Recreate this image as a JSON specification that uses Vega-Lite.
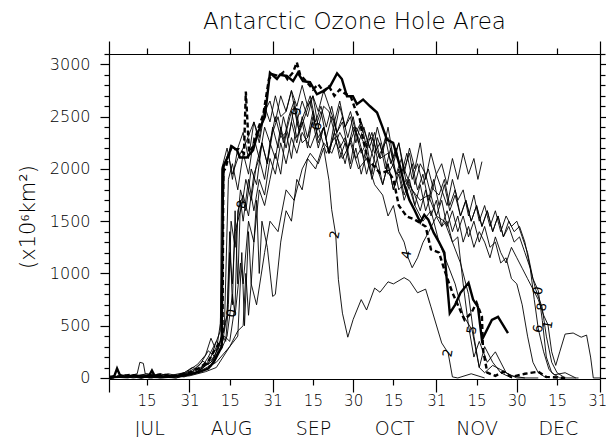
{
  "$schema": "https://vega.github.io/schema/vega-lite/v6.json",
  "width": 491,
  "height": 325,
  "autosize": {"type": "none"},
  "padding": {"left": 109, "top": 54, "right": 6, "bottom": 58},
  "background": "white",
  "config": {"view": {"stroke": null}, "font": "DejaVu Sans"},
  "title": {"text": "Antarctic Ozone Hole Area", "fontSize": 23, "font": "DejaVu Sans", "fontWeight": 300, "color": "black", "anchor": "middle", "frame": "group", "offset": 6},
  "resolve": {"axis": {"x": "independent", "y": "independent"}},
  "datasets": {
    "thick": [
      {"s":"S","d":0,"v":0},{"s":"S","d":2,"v":20},{"s":"S","d":3,"v":90},{"s":"S","d":4,"v":30},{"s":"S","d":6,"v":10},{"s":"S","d":9,"v":15},{"s":"S","d":12,"v":5},{"s":"S","d":15,"v":25},{"s":"S","d":16,"v":70},{"s":"S","d":17,"v":20},{"s":"S","d":20,"v":10},{"s":"S","d":24,"v":15},{"s":"S","d":28,"v":30},{"s":"S","d":31,"v":40},{"s":"S","d":34,"v":60},{"s":"S","d":37,"v":90},{"s":"S","d":39,"v":150},{"s":"S","d":41,"v":250},{"s":"S","d":42,"v":300},{"s":"S","d":42.5,"v":2020},{"s":"S","d":44,"v":2100},{"s":"S","d":45.8,"v":2215},{"s":"S","d":47.7,"v":2180},{"s":"S","d":48.8,"v":2110},{"s":"S","d":51.4,"v":2110},{"s":"S","d":53.7,"v":2180},{"s":"S","d":55.5,"v":2350},{"s":"S","d":58.1,"v":2500},{"s":"S","d":60,"v":2920},{"s":"S","d":62.6,"v":2860},{"s":"S","d":63.7,"v":2900},{"s":"S","d":66.3,"v":2890},{"s":"S","d":68.6,"v":2840},{"s":"S","d":70.4,"v":2920},{"s":"S","d":72.3,"v":2840},{"s":"S","d":74.9,"v":2830},{"s":"S","d":77.5,"v":2715},{"s":"S","d":79.8,"v":2745},{"s":"S","d":82.4,"v":2790},{"s":"S","d":85,"v":2915},{"s":"S","d":86.8,"v":2860},{"s":"S","d":88.7,"v":2695},{"s":"S","d":90.9,"v":2695},{"s":"S","d":92.4,"v":2620},{"s":"S","d":94.7,"v":2665},{"s":"S","d":97.3,"v":2600},{"s":"S","d":99.9,"v":2540},{"s":"S","d":101.8,"v":2410},{"s":"S","d":103.6,"v":2280},{"s":"S","d":105.9,"v":2250},{"s":"S","d":108.5,"v":2020},{"s":"S","d":110.3,"v":1830},{"s":"S","d":112,"v":1700},{"s":"S","d":114,"v":1600},{"s":"S","d":116,"v":1490},{"s":"S","d":117.5,"v":1560},{"s":"S","d":119,"v":1515},{"s":"S","d":121,"v":1390},{"s":"S","d":123,"v":1300},{"s":"S","d":125,"v":1200},{"s":"S","d":127,"v":620},{"s":"S","d":129,"v":700},{"s":"S","d":131,"v":815},{"s":"S","d":134,"v":910},{"s":"S","d":135.7,"v":750},{"s":"S","d":137.5,"v":680},{"s":"S","d":139,"v":365},{"s":"S","d":142.7,"v":555},{"s":"S","d":145,"v":585},{"s":"S","d":148.7,"v":430},
      {"s":"D","d":0,"v":0},{"s":"D","d":4,"v":15},{"s":"D","d":8,"v":30},{"s":"D","d":12,"v":10},{"s":"D","d":16,"v":20},{"s":"D","d":20,"v":35},{"s":"D","d":24,"v":15},{"s":"D","d":28,"v":40},{"s":"D","d":31,"v":60},{"s":"D","d":34,"v":100},{"s":"D","d":37,"v":160},{"s":"D","d":39,"v":250},{"s":"D","d":41,"v":330},{"s":"D","d":42.3,"v":390},{"s":"D","d":42.6,"v":1975},{"s":"D","d":43.5,"v":2010},{"s":"D","d":45.5,"v":2215},{"s":"D","d":46.5,"v":2190},{"s":"D","d":48.5,"v":2190},{"s":"D","d":50.3,"v":2150},{"s":"D","d":51,"v":2740},{"s":"D","d":52.2,"v":2160},{"s":"D","d":53.7,"v":2215},{"s":"D","d":55.5,"v":2380},{"s":"D","d":57.5,"v":2520},{"s":"D","d":59.6,"v":2860},{"s":"D","d":61,"v":2905},{"s":"D","d":63.3,"v":2890},{"s":"D","d":65,"v":2925},{"s":"D","d":66.5,"v":2860},{"s":"D","d":68.6,"v":2925},{"s":"D","d":70,"v":3020},{"s":"D","d":71.2,"v":2905},{"s":"D","d":73.8,"v":2830},{"s":"D","d":76,"v":2760},{"s":"D","d":78,"v":2810},{"s":"D","d":80,"v":2740},{"s":"D","d":82,"v":2790},{"s":"D","d":84,"v":2700},{"s":"D","d":86,"v":2760},{"s":"D","d":88,"v":2720},{"s":"D","d":90,"v":2700},{"s":"D","d":91.8,"v":2570},{"s":"D","d":93.5,"v":2475},{"s":"D","d":94.7,"v":2280},{"s":"D","d":96.5,"v":2090},{"s":"D","d":99,"v":2020},{"s":"D","d":101,"v":1960},{"s":"D","d":104,"v":1980},{"s":"D","d":106,"v":1900},{"s":"D","d":108,"v":1650},{"s":"D","d":111,"v":1545},{"s":"D","d":114,"v":1515},{"s":"D","d":118,"v":1450},{"s":"D","d":120,"v":1230},{"s":"D","d":123,"v":1200},{"s":"D","d":125,"v":1035},{"s":"D","d":128,"v":815},{"s":"D","d":132.5,"v":556},{"s":"D","d":135,"v":620},{"s":"D","d":137,"v":720},{"s":"D","d":139,"v":585},{"s":"D","d":139.4,"v":270},{"s":"D","d":141,"v":50},{"s":"D","d":144,"v":20},{"s":"D","d":147,"v":60},{"s":"D","d":150,"v":10},{"s":"D","d":155,"v":40},{"s":"D","d":160,"v":60},{"s":"D","d":163,"v":10},{"s":"D","d":170,"v":0}
    ],
    "thin": [
      {"s":"L0","d":0,"v":0},{"s":"L0","d":4,"v":20},{"s":"L0","d":9,"v":0},{"s":"L0","d":14,"v":15},{"s":"L0","d":19,"v":40},{"s":"L0","d":24,"v":10},{"s":"L0","d":29,"v":60},{"s":"L0","d":33,"v":130},{"s":"L0","d":36,"v":220},{"s":"L0","d":38,"v":380},{"s":"L0","d":40,"v":260},{"s":"L0","d":41.5,"v":520},{"s":"L0","d":43,"v":2050},{"s":"L0","d":44.5,"v":2150},{"s":"L0","d":46,"v":1900},{"s":"L0","d":48,"v":2200},{"s":"L0","d":50,"v":2350},{"s":"L0","d":52,"v":2100},{"s":"L0","d":54,"v":2450},{"s":"L0","d":56,"v":2300},{"s":"L0","d":58,"v":2600},{"s":"L0","d":60,"v":2450},{"s":"L0","d":62,"v":2700},{"s":"L0","d":64,"v":2500},{"s":"L0","d":66,"v":2550},{"s":"L0","d":68,"v":2750},{"s":"L0","d":70,"v":2450},{"s":"L0","d":72,"v":2650},{"s":"L0","d":74,"v":2500},{"s":"L0","d":76,"v":2700},{"s":"L0","d":78,"v":2400},{"s":"L0","d":80,"v":2600},{"s":"L0","d":82,"v":2550},{"s":"L0","d":84,"v":2350},{"s":"L0","d":86,"v":2600},{"s":"L0","d":88,"v":2400},{"s":"L0","d":90,"v":2500},{"s":"L0","d":92,"v":2250},{"s":"L0","d":94,"v":2450},{"s":"L0","d":96,"v":2300},{"s":"L0","d":98,"v":2150},{"s":"L0","d":100,"v":2400},{"s":"L0","d":102,"v":2200},{"s":"L0","d":104,"v":2300},{"s":"L0","d":106,"v":2050},{"s":"L0","d":108,"v":2250},{"s":"L0","d":110,"v":2000},{"s":"L0","d":112,"v":2150},{"s":"L0","d":114,"v":1850},{"s":"L0","d":116,"v":2050},{"s":"L0","d":118,"v":1950},{"s":"L0","d":120,"v":1750},{"s":"L0","d":122,"v":1950},{"s":"L0","d":124,"v":1800},{"s":"L0","d":126,"v":1650},{"s":"L0","d":128,"v":1900},{"s":"L0","d":130,"v":1700},{"s":"L0","d":132,"v":1800},{"s":"L0","d":134,"v":1550},{"s":"L0","d":136,"v":1750},{"s":"L0","d":138,"v":1500},{"s":"L0","d":140,"v":1650},{"s":"L0","d":142,"v":1450},{"s":"L0","d":144,"v":1600},{"s":"L0","d":146,"v":1400},{"s":"L0","d":148,"v":1550},{"s":"L0","d":150,"v":1450},{"s":"L0","d":152,"v":1500},{"s":"L0","d":154,"v":1350},{"s":"L0","d":156,"v":1200},{"s":"L0","d":158,"v":950},{"s":"L0","d":160,"v":835},{"s":"L0","d":161.5,"v":550},{"s":"L0","d":163,"v":200},{"s":"L0","d":165,"v":50},{"s":"L0","d":168,"v":0},{"s":"L0","d":175,"v":0},
      {"s":"L1","d":0,"v":0},{"s":"L1","d":6,"v":30},{"s":"L1","d":12,"v":0},{"s":"L1","d":18,"v":20},{"s":"L1","d":24,"v":10},{"s":"L1","d":28,"v":40},{"s":"L1","d":32,"v":90},{"s":"L1","d":35,"v":160},{"s":"L1","d":38,"v":110},{"s":"L1","d":41,"v":320},{"s":"L1","d":43,"v":470},{"s":"L1","d":44.5,"v":1900},{"s":"L1","d":46,"v":2050},{"s":"L1","d":48,"v":1800},{"s":"L1","d":50,"v":2150},{"s":"L1","d":52,"v":1950},{"s":"L1","d":54,"v":2300},{"s":"L1","d":56,"v":2100},{"s":"L1","d":58,"v":2400},{"s":"L1","d":60,"v":2250},{"s":"L1","d":62,"v":2500},{"s":"L1","d":64,"v":2300},{"s":"L1","d":66,"v":2350},{"s":"L1","d":68,"v":2550},{"s":"L1","d":70,"v":2300},{"s":"L1","d":72,"v":2450},{"s":"L1","d":74,"v":2200},{"s":"L1","d":76,"v":2500},{"s":"L1","d":78,"v":2300},{"s":"L1","d":80,"v":2400},{"s":"L1","d":82,"v":2150},{"s":"L1","d":84,"v":2350},{"s":"L1","d":86,"v":2250},{"s":"L1","d":88,"v":2050},{"s":"L1","d":90,"v":2300},{"s":"L1","d":92,"v":2100},{"s":"L1","d":94,"v":2200},{"s":"L1","d":96,"v":1950},{"s":"L1","d":98,"v":2150},{"s":"L1","d":100,"v":2000},{"s":"L1","d":102,"v":1850},{"s":"L1","d":104,"v":2050},{"s":"L1","d":106,"v":1800},{"s":"L1","d":108,"v":1950},{"s":"L1","d":110,"v":1700},{"s":"L1","d":112,"v":1850},{"s":"L1","d":114,"v":1750},{"s":"L1","d":116,"v":1600},{"s":"L1","d":118,"v":1800},{"s":"L1","d":120,"v":1550},{"s":"L1","d":122,"v":1700},{"s":"L1","d":124,"v":1450},{"s":"L1","d":126,"v":1600},{"s":"L1","d":128,"v":1400},{"s":"L1","d":130,"v":1550},{"s":"L1","d":132,"v":1300},{"s":"L1","d":134,"v":1450},{"s":"L1","d":136,"v":1250},{"s":"L1","d":138,"v":1400},{"s":"L1","d":140,"v":1300},{"s":"L1","d":142,"v":1150},{"s":"L1","d":144,"v":1350},{"s":"L1","d":146,"v":1200},{"s":"L1","d":148,"v":1100},{"s":"L1","d":150,"v":1250},{"s":"L1","d":152,"v":1150},{"s":"L1","d":154,"v":1050},{"s":"L1","d":156,"v":950},{"s":"L1","d":158,"v":850},{"s":"L1","d":160,"v":750},{"s":"L1","d":162,"v":600},{"s":"L1","d":163.6,"v":510},{"s":"L1","d":165,"v":250},{"s":"L1","d":166.5,"v":120},{"s":"L1","d":168,"v":250},{"s":"L1","d":170,"v":420},{"s":"L1","d":173,"v":430},{"s":"L1","d":176,"v":390},{"s":"L1","d":178,"v":410},{"s":"L1","d":179.5,"v":200},{"s":"L1","d":180.5,"v":0},{"s":"L1","d":183,"v":0},
      {"s":"L2","d":0,"v":0},{"s":"L2","d":10,"v":10},{"s":"L2","d":20,"v":0},{"s":"L2","d":30,"v":20},{"s":"L2","d":36,"v":60},{"s":"L2","d":40,"v":100},{"s":"L2","d":45,"v":300},{"s":"L2","d":48,"v":450},{"s":"L2","d":50,"v":500},{"s":"L2","d":51,"v":1000},{"s":"L2","d":52,"v":600},{"s":"L2","d":53,"v":900},{"s":"L2","d":55,"v":700},{"s":"L2","d":58,"v":1200},{"s":"L2","d":60,"v":1500},{"s":"L2","d":63,"v":1400},{"s":"L2","d":66,"v":1800},{"s":"L2","d":69,"v":1700},{"s":"L2","d":72,"v":2000},{"s":"L2","d":75,"v":2150},{"s":"L2","d":78,"v":2050},{"s":"L2","d":80,"v":2200},{"s":"L2","d":82,"v":1890},{"s":"L2","d":83,"v":1610},{"s":"L2","d":84.5,"v":1370},{"s":"L2","d":85.5,"v":940},{"s":"L2","d":87,"v":620},{"s":"L2","d":89,"v":390},{"s":"L2","d":91,"v":560},{"s":"L2","d":94,"v":750},{"s":"L2","d":96,"v":650},{"s":"L2","d":99,"v":860},{"s":"L2","d":101,"v":820},{"s":"L2","d":104,"v":920},{"s":"L2","d":106,"v":900},{"s":"L2","d":110,"v":960},{"s":"L2","d":112,"v":930},{"s":"L2","d":115,"v":815},{"s":"L2","d":118,"v":850},{"s":"L2","d":120,"v":680},{"s":"L2","d":124,"v":335},{"s":"L2","d":126.4,"v":240},{"s":"L2","d":128,"v":10},{"s":"L2","d":130,"v":0},{"s":"L2","d":135,"v":40},{"s":"L2","d":140,"v":0},
      {"s":"L3","d":0,"v":0},{"s":"L3","d":8,"v":20},{"s":"L3","d":16,"v":0},{"s":"L3","d":22,"v":40},{"s":"L3","d":26,"v":20},{"s":"L3","d":30,"v":30},{"s":"L3","d":33,"v":60},{"s":"L3","d":36,"v":120},{"s":"L3","d":39,"v":200},{"s":"L3","d":42,"v":280},{"s":"L3","d":44,"v":400},{"s":"L3","d":46,"v":800},{"s":"L3","d":47,"v":600},{"s":"L3","d":49,"v":1100},{"s":"L3","d":50,"v":900},{"s":"L3","d":52,"v":1500},{"s":"L3","d":54,"v":1300},{"s":"L3","d":56,"v":1800},{"s":"L3","d":58,"v":1650},{"s":"L3","d":60,"v":1900},{"s":"L3","d":62,"v":2150},{"s":"L3","d":64,"v":1950},{"s":"L3","d":66,"v":2350},{"s":"L3","d":68,"v":2100},{"s":"L3","d":70,"v":2450},{"s":"L3","d":72,"v":2250},{"s":"L3","d":74,"v":2300},{"s":"L3","d":76,"v":2550},{"s":"L3","d":78,"v":2250},{"s":"L3","d":80,"v":2400},{"s":"L3","d":82,"v":2150},{"s":"L3","d":84,"v":2450},{"s":"L3","d":86,"v":2200},{"s":"L3","d":88,"v":2300},{"s":"L3","d":90,"v":2050},{"s":"L3","d":92,"v":2350},{"s":"L3","d":94,"v":2150},{"s":"L3","d":96,"v":2250},{"s":"L3","d":98,"v":1950},{"s":"L3","d":100,"v":2300},{"s":"L3","d":102,"v":2150},{"s":"L3","d":104,"v":2400},{"s":"L3","d":106,"v":2100},{"s":"L3","d":108,"v":2250},{"s":"L3","d":110,"v":1950},{"s":"L3","d":112,"v":2200},{"s":"L3","d":114,"v":2000},{"s":"L3","d":116,"v":2250},{"s":"L3","d":118,"v":1900},{"s":"L3","d":120,"v":2150},{"s":"L3","d":122,"v":1950},{"s":"L3","d":124,"v":2050},{"s":"L3","d":126,"v":1850},{"s":"L3","d":128,"v":2100},{"s":"L3","d":130,"v":1900},{"s":"L3","d":132,"v":2150},{"s":"L3","d":134,"v":1950},{"s":"L3","d":136,"v":2100},{"s":"L3","d":137.5,"v":1900},{"s":"L3","d":139,"v":2070},
      {"s":"L4","d":0,"v":0},{"s":"L4","d":7,"v":20},{"s":"L4","d":14,"v":10},{"s":"L4","d":21,"v":30},{"s":"L4","d":28,"v":10},{"s":"L4","d":32,"v":50},{"s":"L4","d":35,"v":100},{"s":"L4","d":38,"v":150},{"s":"L4","d":41,"v":300},{"s":"L4","d":44,"v":600},{"s":"L4","d":45,"v":1400},{"s":"L4","d":46,"v":700},{"s":"L4","d":47,"v":1600},{"s":"L4","d":48,"v":900},{"s":"L4","d":49,"v":1700},{"s":"L4","d":50,"v":1500},{"s":"L4","d":52,"v":1900},{"s":"L4","d":54,"v":1600},{"s":"L4","d":56,"v":1900},{"s":"L4","d":58,"v":1750},{"s":"L4","d":60,"v":2100},{"s":"L4","d":62,"v":1950},{"s":"L4","d":64,"v":2250},{"s":"L4","d":66,"v":2050},{"s":"L4","d":68,"v":2300},{"s":"L4","d":70,"v":2150},{"s":"L4","d":72,"v":2350},{"s":"L4","d":75,"v":2200},{"s":"L4","d":78,"v":2400},{"s":"L4","d":81,"v":2150},{"s":"L4","d":84,"v":2300},{"s":"L4","d":87,"v":2100},{"s":"L4","d":90,"v":2250},{"s":"L4","d":93,"v":2000},{"s":"L4","d":96,"v":2100},{"s":"L4","d":99,"v":1850},{"s":"L4","d":102,"v":1750},{"s":"L4","d":104,"v":1550},{"s":"L4","d":106,"v":1650},{"s":"L4","d":108,"v":1400},{"s":"L4","d":110,"v":1300},{"s":"L4","d":111.5,"v":1150},{"s":"L4","d":113,"v":1055},{"s":"L4","d":115,"v":1150},{"s":"L4","d":117,"v":1295},{"s":"L4","d":119,"v":1390},{"s":"L4","d":122,"v":1545},{"s":"L4","d":124,"v":1450},{"s":"L4","d":126,"v":1500},{"s":"L4","d":128,"v":1300},{"s":"L4","d":130,"v":1350},{"s":"L4","d":132,"v":900},{"s":"L4","d":134,"v":500},{"s":"L4","d":136,"v":200},{"s":"L4","d":138,"v":350},{"s":"L4","d":141,"v":150},{"s":"L4","d":144,"v":250},{"s":"L4","d":148,"v":50},{"s":"L4","d":152,"v":0},{"s":"L4","d":160,"v":0},
      {"s":"L5","d":0,"v":0},{"s":"L5","d":6,"v":10},{"s":"L5","d":13,"v":30},{"s":"L5","d":19,"v":0},{"s":"L5","d":26,"v":20},{"s":"L5","d":31,"v":40},{"s":"L5","d":35,"v":90},{"s":"L5","d":38,"v":200},{"s":"L5","d":40,"v":350},{"s":"L5","d":41.5,"v":450},{"s":"L5","d":42,"v":2000},{"s":"L5","d":44,"v":2200},{"s":"L5","d":46,"v":1950},{"s":"L5","d":48,"v":2100},{"s":"L5","d":51,"v":2250},{"s":"L5","d":54,"v":2450},{"s":"L5","d":56,"v":2250},{"s":"L5","d":58,"v":2550},{"s":"L5","d":60,"v":2650},{"s":"L5","d":62,"v":2450},{"s":"L5","d":64,"v":2700},{"s":"L5","d":66,"v":2550},{"s":"L5","d":68,"v":2750},{"s":"L5","d":70,"v":2600},{"s":"L5","d":72,"v":2800},{"s":"L5","d":74,"v":2600},{"s":"L5","d":76,"v":2700},{"s":"L5","d":78,"v":2550},{"s":"L5","d":80,"v":2750},{"s":"L5","d":82,"v":2600},{"s":"L5","d":84,"v":2450},{"s":"L5","d":86,"v":2650},{"s":"L5","d":88,"v":2400},{"s":"L5","d":90,"v":2550},{"s":"L5","d":92,"v":2350},{"s":"L5","d":94,"v":2450},{"s":"L5","d":96,"v":2200},{"s":"L5","d":98,"v":2350},{"s":"L5","d":100,"v":2100},{"s":"L5","d":102,"v":2200},{"s":"L5","d":104,"v":1950},{"s":"L5","d":106,"v":2050},{"s":"L5","d":108,"v":1800},{"s":"L5","d":111,"v":1900},{"s":"L5","d":114,"v":1650},{"s":"L5","d":117,"v":1500},{"s":"L5","d":120,"v":1600},{"s":"L5","d":123,"v":1300},{"s":"L5","d":126,"v":1100},{"s":"L5","d":129,"v":900},{"s":"L5","d":132,"v":600},{"s":"L5","d":135.3,"v":460},{"s":"L5","d":136.5,"v":300},{"s":"L5","d":138,"v":100},{"s":"L5","d":140,"v":50},{"s":"L5","d":143,"v":120},{"s":"L5","d":146,"v":80},{"s":"L5","d":150,"v":20},{"s":"L5","d":155,"v":0},
      {"s":"L6","d":0,"v":10},{"s":"L6","d":7,"v":0},{"s":"L6","d":14,"v":40},{"s":"L6","d":21,"v":10},{"s":"L6","d":27,"v":30},{"s":"L6","d":31,"v":60},{"s":"L6","d":34,"v":130},{"s":"L6","d":37,"v":260},{"s":"L6","d":40,"v":190},{"s":"L6","d":42,"v":420},{"s":"L6","d":43.5,"v":350},{"s":"L6","d":44.5,"v":700},{"s":"L6","d":45.5,"v":1500},{"s":"L6","d":47,"v":1250},{"s":"L6","d":49,"v":1800},{"s":"L6","d":51,"v":1600},{"s":"L6","d":53,"v":2000},{"s":"L6","d":55,"v":1850},{"s":"L6","d":57,"v":2250},{"s":"L6","d":59,"v":2050},{"s":"L6","d":61,"v":2400},{"s":"L6","d":63,"v":2200},{"s":"L6","d":65,"v":2500},{"s":"L6","d":67,"v":2300},{"s":"L6","d":69,"v":2600},{"s":"L6","d":71,"v":2350},{"s":"L6","d":73,"v":2500},{"s":"L6","d":75,"v":2650},{"s":"L6","d":77,"v":2400},{"s":"L6","d":79,"v":2550},{"s":"L6","d":81,"v":2300},{"s":"L6","d":83,"v":2500},{"s":"L6","d":85,"v":2350},{"s":"L6","d":87,"v":2450},{"s":"L6","d":89,"v":2200},{"s":"L6","d":91,"v":2400},{"s":"L6","d":93,"v":2300},{"s":"L6","d":95,"v":2100},{"s":"L6","d":97,"v":2350},{"s":"L6","d":99,"v":2150},{"s":"L6","d":101,"v":2250},{"s":"L6","d":103,"v":2000},{"s":"L6","d":105,"v":2200},{"s":"L6","d":107,"v":1950},{"s":"L6","d":109,"v":2100},{"s":"L6","d":111,"v":1850},{"s":"L6","d":113,"v":2050},{"s":"L6","d":115,"v":1800},{"s":"L6","d":117,"v":1950},{"s":"L6","d":119,"v":1700},{"s":"L6","d":121,"v":1900},{"s":"L6","d":123,"v":1650},{"s":"L6","d":125,"v":1850},{"s":"L6","d":127,"v":1600},{"s":"L6","d":129,"v":1750},{"s":"L6","d":131,"v":1550},{"s":"L6","d":133,"v":1700},{"s":"L6","d":135,"v":1500},{"s":"L6","d":137,"v":1650},{"s":"L6","d":139,"v":1450},{"s":"L6","d":141,"v":1600},{"s":"L6","d":143,"v":1400},{"s":"L6","d":145,"v":1550},{"s":"L6","d":147,"v":1350},{"s":"L6","d":149,"v":1500},{"s":"L6","d":151,"v":1400},{"s":"L6","d":153,"v":1450},{"s":"L6","d":155,"v":1300},{"s":"L6","d":157,"v":1050},{"s":"L6","d":158.5,"v":750},{"s":"L6","d":160,"v":470},{"s":"L6","d":162,"v":250},{"s":"L6","d":164,"v":80},{"s":"L6","d":166,"v":30},{"s":"L6","d":170,"v":50},{"s":"L6","d":174,"v":0},
      {"s":"L7","d":0,"v":0},{"s":"L7","d":9,"v":30},{"s":"L7","d":18,"v":10},{"s":"L7","d":25,"v":0},{"s":"L7","d":30,"v":30},{"s":"L7","d":35,"v":80},{"s":"L7","d":40,"v":150},{"s":"L7","d":45,"v":300},{"s":"L7","d":48,"v":400},{"s":"L7","d":49.5,"v":1200},{"s":"L7","d":50.5,"v":500},{"s":"L7","d":52,"v":1400},{"s":"L7","d":53,"v":900},{"s":"L7","d":55,"v":1700},{"s":"L7","d":56,"v":1000},{"s":"L7","d":57,"v":1500},{"s":"L7","d":59,"v":1250},{"s":"L7","d":61,"v":780},{"s":"L7","d":62,"v":800},{"s":"L7","d":64,"v":1300},{"s":"L7","d":66,"v":1600},{"s":"L7","d":68,"v":1500},{"s":"L7","d":70,"v":1900},{"s":"L7","d":72,"v":1800},{"s":"L7","d":74,"v":2100},{"s":"L7","d":77,"v":2000},{"s":"L7","d":80,"v":2250},{"s":"L7","d":83,"v":2150},{"s":"L7","d":86,"v":2350},{"s":"L7","d":89,"v":2200},{"s":"L7","d":92,"v":2400},{"s":"L7","d":95,"v":2250},{"s":"L7","d":98,"v":2300},{"s":"L7","d":101,"v":2100},{"s":"L7","d":104,"v":2150},{"s":"L7","d":107,"v":1950},{"s":"L7","d":110,"v":2000},{"s":"L7","d":113,"v":1800},{"s":"L7","d":116,"v":1700},{"s":"L7","d":119,"v":1750},{"s":"L7","d":122,"v":1550},{"s":"L7","d":125,"v":1500},{"s":"L7","d":128,"v":1300},{"s":"L7","d":131,"v":1100},{"s":"L7","d":134,"v":800},{"s":"L7","d":136,"v":400},{"s":"L7","d":138,"v":100},{"s":"L7","d":140,"v":300},{"s":"L7","d":143,"v":150},{"s":"L7","d":146,"v":50},{"s":"L7","d":150,"v":0},
      {"s":"L8","d":0,"v":0},{"s":"L8","d":5,"v":10},{"s":"L8","d":10,"v":30},{"s":"L8","d":15,"v":0},{"s":"L8","d":22,"v":20},{"s":"L8","d":28,"v":50},{"s":"L8","d":31,"v":100},{"s":"L8","d":34,"v":80},{"s":"L8","d":37,"v":200},{"s":"L8","d":40,"v":350},{"s":"L8","d":42,"v":300},{"s":"L8","d":44,"v":600},{"s":"L8","d":45,"v":1200},{"s":"L8","d":46,"v":900},{"s":"L8","d":47,"v":1400},{"s":"L8","d":48,"v":1500},{"s":"L8","d":49.6,"v":1660},{"s":"L8","d":51,"v":1900},{"s":"L8","d":53,"v":1700},{"s":"L8","d":55,"v":2050},{"s":"L8","d":57,"v":2250},{"s":"L8","d":59,"v":2050},{"s":"L8","d":61,"v":2350},{"s":"L8","d":63,"v":2500},{"s":"L8","d":65,"v":2250},{"s":"L8","d":67,"v":2500},{"s":"L8","d":69,"v":2650},{"s":"L8","d":71,"v":2400},{"s":"L8","d":73,"v":2550},{"s":"L8","d":75,"v":2700},{"s":"L8","d":77,"v":2450},{"s":"L8","d":79,"v":2600},{"s":"L8","d":81,"v":2400},{"s":"L8","d":83,"v":2600},{"s":"L8","d":85,"v":2350},{"s":"L8","d":87,"v":2500},{"s":"L8","d":89,"v":2300},{"s":"L8","d":91,"v":2500},{"s":"L8","d":93,"v":2250},{"s":"L8","d":95,"v":2400},{"s":"L8","d":97,"v":2200},{"s":"L8","d":99,"v":2350},{"s":"L8","d":101,"v":2100},{"s":"L8","d":103,"v":2300},{"s":"L8","d":105,"v":2050},{"s":"L8","d":107,"v":2200},{"s":"L8","d":109,"v":1950},{"s":"L8","d":111,"v":2150},{"s":"L8","d":113,"v":1900},{"s":"L8","d":115,"v":2050},{"s":"L8","d":117,"v":1850},{"s":"L8","d":119,"v":2000},{"s":"L8","d":121,"v":1800},{"s":"L8","d":123,"v":1750},{"s":"L8","d":125,"v":1900},{"s":"L8","d":127,"v":1650},{"s":"L8","d":129,"v":1800},{"s":"L8","d":131,"v":1550},{"s":"L8","d":133,"v":1700},{"s":"L8","d":135,"v":1500},{"s":"L8","d":137,"v":1650},{"s":"L8","d":139,"v":1450},{"s":"L8","d":141,"v":1600},{"s":"L8","d":143,"v":1400},{"s":"L8","d":145,"v":1550},{"s":"L8","d":147,"v":1350},{"s":"L8","d":149,"v":1450},{"s":"L8","d":151,"v":1300},{"s":"L8","d":153,"v":1350},{"s":"L8","d":155,"v":1200},{"s":"L8","d":157,"v":1050},{"s":"L8","d":159,"v":850},{"s":"L8","d":161.4,"v":680},{"s":"L8","d":163,"v":400},{"s":"L8","d":165,"v":150},{"s":"L8","d":167,"v":50},{"s":"L8","d":170,"v":0},
      {"s":"L9","d":0,"v":20},{"s":"L9","d":6,"v":10},{"s":"L9","d":10.5,"v":40},{"s":"L9","d":11.5,"v":150},{"s":"L9","d":12.8,"v":140},{"s":"L9","d":13.5,"v":40},{"s":"L9","d":18,"v":20},{"s":"L9","d":25,"v":0},{"s":"L9","d":30,"v":40},{"s":"L9","d":34,"v":100},{"s":"L9","d":38,"v":150},{"s":"L9","d":41,"v":250},{"s":"L9","d":43,"v":400},{"s":"L9","d":45,"v":350},{"s":"L9","d":47,"v":700},{"s":"L9","d":48,"v":1600},{"s":"L9","d":50,"v":1750},{"s":"L9","d":52,"v":1550},{"s":"L9","d":54,"v":1950},{"s":"L9","d":56,"v":2100},{"s":"L9","d":58,"v":1900},{"s":"L9","d":60,"v":2250},{"s":"L9","d":62,"v":2100},{"s":"L9","d":64,"v":2400},{"s":"L9","d":66,"v":2200},{"s":"L9","d":68,"v":2450},{"s":"L9","d":70,"v":2250},{"s":"L9","d":72,"v":2500},{"s":"L9","d":74,"v":2300},{"s":"L9","d":76,"v":2450},{"s":"L9","d":78,"v":2200},{"s":"L9","d":80,"v":2400},{"s":"L9","d":82,"v":2150},{"s":"L9","d":84,"v":2350},{"s":"L9","d":86,"v":2100},{"s":"L9","d":88,"v":2250},{"s":"L9","d":90,"v":2000},{"s":"L9","d":92,"v":2200},{"s":"L9","d":94,"v":1950},{"s":"L9","d":96,"v":2150},{"s":"L9","d":98,"v":1900},{"s":"L9","d":100,"v":2100},{"s":"L9","d":102,"v":1850},{"s":"L9","d":104,"v":2050},{"s":"L9","d":106,"v":1800},{"s":"L9","d":108,"v":2000},{"s":"L9","d":110,"v":1750},{"s":"L9","d":112,"v":1900},{"s":"L9","d":114,"v":1650},{"s":"L9","d":116,"v":1850},{"s":"L9","d":118,"v":1600},{"s":"L9","d":120,"v":1750},{"s":"L9","d":122,"v":1550},{"s":"L9","d":124,"v":1700},{"s":"L9","d":126,"v":1450},{"s":"L9","d":128,"v":1600},{"s":"L9","d":130,"v":1400},{"s":"L9","d":132,"v":1550},{"s":"L9","d":134,"v":1350},{"s":"L9","d":136,"v":1500},{"s":"L9","d":138,"v":1300},{"s":"L9","d":140,"v":1450},{"s":"L9","d":142,"v":1250},{"s":"L9","d":144,"v":1300},{"s":"L9","d":146,"v":1100},{"s":"L9","d":148,"v":1150},{"s":"L9","d":150,"v":950},{"s":"L9","d":152,"v":900},{"s":"L9","d":154,"v":700},{"s":"L9","d":156,"v":400},{"s":"L9","d":158,"v":150},{"s":"L9","d":160,"v":50},{"s":"L9","d":163,"v":0}
    ],
    "labels": [
      {"t":"0","d":45.8,"v":620},{"t":"8","d":49.6,"v":1660},{"t":"2","d":84.2,"v":1370},{"t":"4","d":111,"v":1180},{"t":"2","d":126.4,"v":240},{"t":"5","d":135.3,"v":460},{"t":"0","d":160,"v":835},{"t":"8","d":161.4,"v":680},{"t":"6","d":160,"v":470},{"t":"1","d":163.6,"v":510},{"t":"9","d":70,"v":2550},{"t":"6","d":77.5,"v":2410}
    ]
  },
  "layer": [
    {
      "data": {"name": "thin"},
      "mark": {"type": "line", "color": "black", "strokeWidth": 0.9, "clip": true},
      "encoding": {
        "detail": {"field": "s"},
        "x": {"field": "d", "type": "quantitative", "scale": {"domain": [0, 183], "nice": false, "zero": false},
          "axis": {"orient": "bottom", "title": null, "grid": false, "labels": false, "domain": true, "domainColor": "black", "domainWidth": 1.2, "tickColor": "black", "tickWidth": 1.2,
            "values": [0, 14, 30, 45, 61, 76, 91, 106, 122, 137, 152, 167, 183],
            "tickSize": {"condition": {"test": "indexof([0,30,61,91,122,152,183], datum.value) >= 0", "value": 13}, "value": 6}}},
        "y": {"field": "v", "type": "quantitative", "scale": {"domain": [-10, 3100], "nice": false, "zero": false},
          "axis": {"orient": "left", "grid": false, "domain": true, "domainColor": "black", "domainWidth": 1.2, "tickColor": "black", "tickWidth": 1.2,
            "values": [0,100,200,300,400,500,600,700,800,900,1000,1100,1200,1300,1400,1500,1600,1700,1800,1900,2000,2100,2200,2300,2400,2500,2600,2700,2800,2900,3000,3100],
            "tickSize": {"condition": {"test": "datum.value % 500 === 0", "value": 9}, "value": 5},
            "format": "d", "labelExpr": "datum.value % 500 === 0 ? datum.label : ''",
            "labelFont": "DejaVu Sans", "labelFontSize": 16, "labelFontWeight": 300, "labelColor": "black", "labelPadding": 10, "labelOverlap": false, "labelFlush": false, "labelBound": false,
            "title": "(x10⁶km²)", "titleFont": "DejaVu Sans", "titleFontSize": 21, "titleFontWeight": 300, "titleColor": "black", "titlePadding": 11}}
      }
    },
    {
      "data": {"name": "thick"},
      "transform": [{"filter": "datum.s === 'S'"}],
      "mark": {"type": "line", "color": "black", "strokeWidth": 2.4, "clip": true},
      "encoding": {
        "x": {"field": "d", "type": "quantitative",
          "axis": {"orient": "bottom", "title": null, "grid": false, "ticks": false, "domain": false,
            "values": [14, 30, 45, 61, 76, 91, 106, 122, 137, 152, 167, 182],
            "labelExpr": "indexof([14,45,76,106,137,167], datum.value) >= 0 ? '15' : (indexof([91,152], datum.value) >= 0 ? '30' : '31')",
            "labelFont": "DejaVu Sans", "labelFontSize": 15, "labelFontWeight": 300, "labelColor": "black", "labelPadding": 14, "labelOverlap": false, "labelFlush": false, "labelBound": false}},
        "y": {"field": "v", "type": "quantitative",
          "axis": {"orient": "right", "title": null, "grid": false, "labels": false, "domain": true, "domainColor": "black", "domainWidth": 1.2, "tickColor": "black", "tickWidth": 1.2,
            "values": [0,100,200,300,400,500,600,700,800,900,1000,1100,1200,1300,1400,1500,1600,1700,1800,1900,2000,2100,2200,2300,2400,2500,2600,2700,2800,2900,3000,3100],
            "tickSize": {"condition": {"test": "datum.value % 500 === 0", "value": 9}, "value": 5}}}
      }
    },
    {
      "data": {"name": "thick"},
      "transform": [{"filter": "datum.s === 'D'"}],
      "mark": {"type": "line", "color": "black", "strokeWidth": 2.4, "strokeDash": [5, 3], "clip": true},
      "encoding": {
        "x": {"field": "d", "type": "quantitative",
          "axis": {"orient": "bottom", "title": null, "grid": false, "ticks": false, "domain": false,
            "values": [15, 45.5, 76, 106.3, 137, 167.3],
            "labelExpr": "datum.value < 30 ? 'JUL' : datum.value < 61 ? 'AUG' : datum.value < 91 ? 'SEP' : datum.value < 122 ? 'OCT' : datum.value < 152 ? 'NOV' : 'DEC'",
            "labelFont": "DejaVu Sans", "labelFontSize": 19, "labelFontWeight": 300, "labelColor": "black", "labelPadding": 40, "labelOverlap": false, "labelFlush": false, "labelBound": false}},
        "y": {"field": "v", "type": "quantitative", "axis": null}
      }
    },
    {
      "data": {"name": "labels"},
      "mark": {"type": "text", "color": "black", "fontSize": 13, "font": "DejaVu Sans", "angle": 280},
      "encoding": {
        "text": {"field": "t"},
        "x": {"field": "d", "type": "quantitative",
          "axis": {"orient": "top", "title": null, "grid": false, "labels": false, "domain": true, "domainColor": "black", "domainWidth": 1.2, "tickColor": "black", "tickWidth": 1.2,
            "values": [0, 14, 30, 45, 61, 76, 91, 106, 122, 137, 152, 167, 183],
            "tickSize": {"condition": {"test": "indexof([0,30,61,91,122,152,183], datum.value) >= 0", "value": 13}, "value": 6}}},
        "y": {"field": "v", "type": "quantitative", "axis": null}
      }
    }
  ]
}
